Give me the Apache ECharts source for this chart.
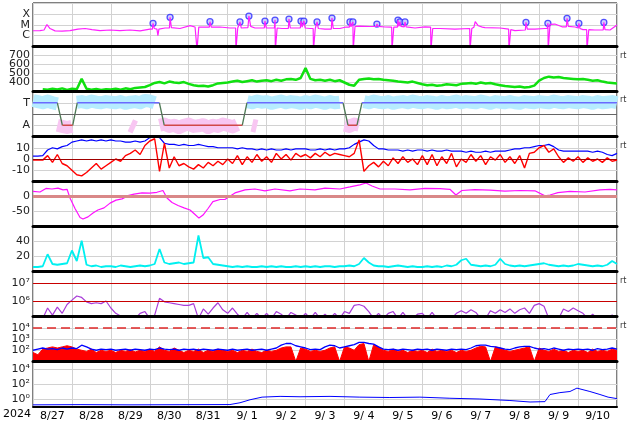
<!DOCTYPE html>
<html><head><meta charset="utf-8">
<script src="https://cdn.jsdelivr.net/npm/echarts@6/dist/echarts.min.js"></script>
<style>html,body{margin:0;padding:0;background:#fff}#c{width:634px;height:424px}</style>
</head><body><div id="c"></div>
<script>
// ---------- DATA ----------
const dayLabels = ['8/27','8/28','8/29','8/30','8/31','9/ 1','9/ 2','9/ 3','9/ 4','9/ 5','9/ 6','9/ 7','9/ 8','9/ 9','9/10'];
const yearLabel = '2024';

// X-ray flux [hour since 8/27 00UT, W/m2]
const xrayPoints = [[0,2.8e-6],[4.3,2.9e-6],[6.8,3.3e-6],[8.6,1.04e-5],[10.5,4.5e-6],[13.6,2.75e-6],[17.9,2.6e-6],[22.8,2.9e-6],[27.7,4.0e-6],[32.1,4.5e-6],[36.4,3.6e-6],[41.3,2.9e-6],[47.5,3.3e-6],[53.6,2.9e-6],[59.8,3.3e-6],[66.0,2.75e-6],[72.1,4.0e-6],
[73.6,4e-6],[74.0,1.35e-5],[74.8,4.5e-6],[76.4,4e-6],[77.0,1.0e-6],[77.6,4e-6],[81.4,5e-6],[84.1,5e-6],[84.5,4.8e-5],[85.3,5.5e-6],[90.6,4.5e-6],[96.8,8.4e-6],[99.9,6.2e-6],
[100.9,6e-6],[101.1,5e-8],[102.0,5e-8],[102.2,6e-6],[106,6.2e-6],[108.7,6e-6],[109.1,1.9e-5],[109.9,6e-6],[115.3,6.2e-6],[121.4,5e-6],
[124.9,5e-6],[125.1,5e-8],[126.0,5e-8],[126.2,5e-6],[127.2,5e-6],[127.6,1.8e-5],[128.4,5e-6],[132.5,5.5e-6],[133.1,6.3e-5],[134.2,7e-6],[136.8,5e-6],
[142.6,5e-6],[143.0,2.2e-5],[143.8,5e-6],[148.8,5e-6],[149.2,2.7e-5],[149.4,5e-8],[150.3,5e-8],[150.5,5e-6],[153.5,4.5e-6],[157.4,4.5e-6],[157.8,3.3e-5],[158.6,5e-6],[161.5,5e-6],
[164.8,5e-6],[165.2,2.2e-5],[165.9,6e-6],[166.6,6e-6],[167.0,2.2e-5],[167.8,5e-6],[170.7,4.5e-6],[172.7,4.5e-6],[172.9,5e-8],[173.8,5e-8],[174.0,4.5e-6],[174.7,4.5e-6],[175.1,1.8e-5],[175.9,4.5e-6],
[180,4e-6],[183.9,4e-6],[184.3,4.1e-5],[185.1,4.5e-6],[189.2,4.5e-6],[192.9,6.2e-6],[195.0,6e-6],[195.4,1.8e-5],[196.0,6.5e-6],[196.8,6.5e-6],[197.2,1.8e-5],[197.4,5e-8],[198.3,5e-8],[198.5,7e-6],
[201.5,7.6e-6],[207.7,6.9e-6],[211.6,7e-6],[212.0,1.15e-5],[212.8,7e-6],[217.0,6.2e-6],[221.1,6e-6],[221.3,5e-8],[222.2,5e-8],[222.4,6e-6],
[224.6,6e-6],[225.0,2.7e-5],[225.5,7e-6],[225.9,7e-6],[226.2,1.8e-5],[226.8,7e-6],[228.9,6.5e-6],[229.3,1.8e-5],[230.0,6.5e-6],[235.5,5e-6],[241.6,6.5e-6],
[245.1,6e-6],[245.3,5e-8],[246.2,5e-8],[246.4,4.5e-6],[250.9,4.5e-6],[260.1,4e-6],[269.2,4.5e-6],[269.4,5e-8],[270.3,5e-8],[270.5,4.5e-6],[271.8,6e-6],[272.6,1.9e-5],[274.5,8e-6],[277,6e-6],
[278.6,5.5e-6],[287.9,5e-6],[293.2,4e-6],[293.4,5e-8],[294.3,5e-8],[294.5,3.5e-6],[297.1,2.9e-6],[303.5,3.3e-6],[303.9,1.65e-5],[304.7,4e-6],[309.4,4e-6],[315.6,4.5e-6],
[317.0,4.5e-6],[317.4,1.35e-5],[317.6,5e-8],[318.5,5e-8],[318.7,1.1e-5],[321.7,1.16e-5],[326.1,6.5e-6],[328.8,6.5e-6],[329.2,3.9e-5],[330.0,7e-6],[334.2,6.2e-6],
[336.1,5e-6],[336.5,1.35e-5],[337.2,4.5e-6],[339.0,3.6e-6],[341.3,3.5e-6],[341.5,5e-8],[342.4,5e-8],[342.6,3.5e-6],[346.4,3.3e-6],[351.5,3.3e-6],[351.9,1.65e-5],[352.6,3.5e-6],[355.7,3.3e-6],[360,9.4e-6]];
const flareHours = [74.0,84.5,109.1,127.6,133.1,143.0,149.2,157.8,165.2,167.0,175.1,184.3,195.4,197.2,212.0,225.0,226.2,229.3,303.9,317.4,329.2,336.5,351.9];
const flareFlux  = [1.35e-5,4.8e-5,1.9e-5,1.8e-5,6.3e-5,2.2e-5,2.7e-5,3.3e-5,2.2e-5,2.2e-5,1.8e-5,4.1e-5,1.8e-5,1.8e-5,1.15e-5,2.7e-5,1.8e-5,1.8e-5,1.65e-5,1.35e-5,3.9e-5,1.35e-5,1.65e-5];

// 3-hourly samples (index i -> hour 3*i)
const windSpeed = [null,null,325,320,330,322,335,318, 330,325,440,330,320,328,318,325, 322,330,320,335,325,340,345,350, 370,395,405,390,410,400,395,405, 385,370,360,365,355,370,390,395, 400,410,420,405,415,425,410,420, 425,415,430,420,435,440,430,450, 560,440,425,430,420,430,415,425, 400,375,365,430,440,445,435,440, 430,425,420,410,405,400,410,395, 380,370,375,365,370,380,375,370, 385,390,395,385,400,390,395,380, 370,360,355,350,355,345,350,365, 420,450,465,455,460,450,445,440, 435,440,430,420,425,410,400,395,390];

const phiToward = [1.2,1.1,1.0,1.15,1.0,0.9,null,null, null,1.05,1.1,1.0,1.15,1.05,1.0,1.1, 1.05,1.0,1.1,0.95,1.05,1.1,1.0,1.2, 1.15,1.0,null,null,null,null,null,null, null,null,null,null,null,null,null,null, null,null,null,null,1.1,1.0,1.15,1.05, 1.1,0.95,1.05,1.15,1.0,1.1,1.05,0.95, 1.1,1.0,1.15,1.05,0.95,1.1,1.0,1.05, null,null,null,null,1.1,1.0,1.15,1.05, 1.0,1.1,0.95,1.05,1.1,1.0,1.15,1.05, 1.0,1.1,1.05,0.95,1.1,1.0,1.05,1.15, 1.0,1.1,1.05,1.0,1.15,1.05,0.95,1.1, 1.05,1.0,1.1,1.0,0.95,1.1,1.05,1.0, 1.1,1.05,1.0,1.15,1.05,1.0,1.1,1.05, 1.0,1.1,1.05,0.95,1.1,1.0,1.05,1.1,1.0];
const phiAway = [null,null,null,null,null,-1.0,-1.1,-1.2, -1.1,null,null,null,null,null,null,null, null,null,null,null,-1.0,-1.2,null,null, null,null,-1.0,-0.9,-1.1,-1.0,-1.2,-1.0, -0.9,-1.1,-1.05,-0.95,-1.2,-1.0,-1.1,-0.9, -1.0,-1.15,-0.95,null,null,-1.0,-1.1,null, null,null,null,null,null,null,null,null, null,null,null,null,null,null,null,null, -1.0,-1.1,-0.9,-1.0,null,null,null,null, null,null,null,null,null,null,null,null, null,null,null,null,null,null,null,null, null,null,null,null,null,null,null,null, null,null,null,null,null,null,null,null, null,null,null,null,null,null,null,null, null,null,null,null,null,null,null,null,null];
const sectorHours = [0,15.0,18.1,24.5,27.3,77.9,80.9,129.0,131.9,191.1,194.2,199.7,202.8,360];
const sectorValues = [1,1,-1,-1,1,1,-1,-1,1,1,-1,-1,1,1];

const imfBt = [2.5,2.5,3,8,10,9,11,12, 15,16,17,16,17,16,17,16, 17,16,16,15,15,16,15,16, 19,20,19,14,13,13,12,13, 12,12,13,12,11,11,10,10, 10,10,9,10,9,9,8,9, 8,9,8,8,9,8,9,9, 9,8,8,9,8,9,8,9, 9,10,13,15,17,16,12,9, 9,8,8,8,7,8,7,8, 8,7,8,7,7,8,7,7, 7,6,7,6,6,7,6,7, 7,7,8,9,9,10,10,11, 12,12,13,11,8,7,7,7, 7,7,7,6,7,6,4,3,5];
const imfBz = [-1,-1,-1,3,-3,4,-4,-6, -10,-14,-15,-12,-8,-4,-9,-6, -3,0,-2,3,5,8,4,12, 16,18,-11,14,-8,2,-6,-4, -7,-9,-5,-8,-3,-6,-2,-5, 0,-4,3,-5,2,-3,4,-2, 2,-3,5,0,4,-1,5,2, 4,1,5,2,6,3,5,4, 3,2,5,17,-11,-6,-3,-7, -2,-6,1,-4,2,-3,0,-5, 3,-5,4,-6,2,-4,5,-7, 0,-3,4,-2,3,-5,2,-1, 4,-3,2,-4,3,-8,5,6, 10,12,6,9,2,-3,1,-2, 2,-3,1,-2,0,-3,1,-2,-1];

const dstPoints = [[0,17],[4.3,15],[8,27],[11.7,25],[15.4,28],[18.5,22],[21,24],[22.8,-5],[25.9,-40],[29,-70],[30.8,-75],[33.9,-68],[37,-55],[40,-45],[43.8,-38],[47.5,-22],[51.2,-12],[54.9,-8],[58.6,3],[62.3,8],[67.2,12],[72,11],[76.4,14],[80.1,20],[82.6,-5],[85.7,-20],[89.4,-30],[93.1,-38],[96.8,-45],[99.9,-60],[102.3,-72],[104.8,-62],[107.9,-40],[110.9,-17],[115.3,-10],[118.3,-10],[124.5,12],[130.7,22],[136.8,25],[143,19],[149.2,25],[158.4,19],[164.6,25],[173.8,22],[180,28],[189.2,25],[195.4,32],[201.5,39],[205.3,45],[209,35],[213.9,25],[223.1,25],[232.4,22],[241.6,27],[250.9,26],[257,24],[260.7,5],[264.4,20],[272.4,23],[281.7,21],[290.9,18],[300.2,20],[309.4,19],[315.6,2],[318.7,5],[323.6,13],[331,17],[340.3,15],[349.5,22],[355.7,24],[360,22]];

const density = [6,6,7,23,10,9,10,11, 28,14,41,9,7,8,6,7, 7,6,8,7,6,7,8,7, 8,10,30,12,10,11,12,10, 11,12,48,18,19,10,9,8, 7,6,7,6,7,6,6,7, 6,7,6,7,6,6,7,6, 7,6,7,6,7,7,6,7, 7,8,7,10,18,12,8,7, 7,6,7,8,7,6,7,6, 6,7,6,7,6,8,7,9, 15,17,9,8,7,8,7,9, 17,10,8,7,8,7,8,9, 10,11,9,8,7,8,7,8, 10,9,8,7,8,7,9,14,10];

// log10 of electron flux
const electronLog = [5.0,5.0,5.0,5.6,5.2,5.65,5.3,5.8, 6.05,6.28,6.2,5.95,5.85,5.9,5.85,6.0, 5.6,5.3,5.15,5.0,5.0,5.0,5.3,5.4, 5.0,5.2,6.15,5.95,5.9,5.85,5.8,5.75, 5.75,5.85,5.0,5.55,5.25,5.6,5.9,5.5, 5.3,5.6,5.25,5.0,5.35,5.0,5.3,5.0, 5.3,5.0,5.4,5.25,5.0,5.35,5.2,5.0, 5.3,5.0,5.35,5.0,5.25,5.0,5.3,5.0, 5.4,5.3,5.75,5.8,5.7,5.4,5.0,5.3, 5.0,5.3,5.4,5.0,5.35,5.0,5.0,5.25, 5.3,5.0,5.35,5.0,5.0,5.0,5.0,5.3, 5.45,5.3,5.5,5.35,5.0,5.0,5.45,5.3, 5.5,5.35,5.55,5.3,5.5,5.6,5.3,5.75, 5.85,5.7,5.0,5.0,5.0,5.55,5.4,5.6, 5.45,5.3,5.0,5.25,5.0,5.0,5.0,5.2,5.0];

// log10 of proton flux (two channels)
const protonRedLog = [1.8,1.6,2.1,2.2,2.3,2.2,2.3,2.4, 2.3,2.1,2.0,1.9,2.1,1.8,2.0,1.9, 2.0,1.8,2.0,1.9,2.05,1.85,2.0,1.9, 2.1,1.9,2.3,2.0,1.9,2.2,2.0,1.8, 2.0,1.9,2.1,1.8,2.0,1.9,2.1,2.0, 1.9,2.0,1.8,2.0,1.9,2.1,1.9,1.8, 2.0,1.9,2.0,2.2,2.3,2.3,1.0,2.2, 2.1,1.9,2.0,1.9,2.0,2.2,2.3,1.0, 2.3,2.2,2.0,2.5,2.6,1.0,2.5,2.3, 2.0,1.9,2.1,1.9,2.0,1.8,2.0,1.9, 2.0,1.8,2.1,1.9,2.0,1.9,2.0,1.8, 2.0,1.9,2.0,2.2,2.35,2.3,1.0,2.3, 2.2,2.0,1.9,2.0,2.1,2.2,2.3,1.0, 2.2,2.0,1.9,2.1,1.9,2.0,1.8,2.0, 1.9,2.0,1.8,2.1,1.9,2.0,1.9,2.1,2.0];
const protonBlueLog = [2.0,2.1,2.2,2.1,2.15,2.05,2.2,2.1, 2.2,2.15,2.45,2.3,2.1,2.0,2.1,2.05, 2.1,2.0,2.05,2.1,2.0,2.1,2.05,2.0, 2.1,2.05,2.2,2.1,2.05,2.1,2.0,2.1, 2.05,2.1,2.0,2.1,2.05,2.0,2.1,2.05, 2.0,2.1,2.0,2.05,2.1,2.0,2.05,2.1, 2.0,2.1,2.2,2.45,2.6,2.6,2.4,2.3, 2.2,2.05,2.1,2.05,2.3,2.45,2.4,2.2, 2.3,2.4,2.5,2.7,2.7,2.6,2.55,2.3, 2.1,2.05,2.1,2.0,2.1,2.05,2.0,2.1, 2.05,2.1,2.0,2.1,2.05,2.0,2.1,2.05, 2.1,2.05,2.2,2.4,2.45,2.45,2.35,2.3, 2.2,2.1,2.05,2.2,2.3,2.35,2.35,2.2, 2.1,2.15,2.05,2.2,2.1,2.0,2.1,2.05, 2.1,2.05,2.1,2.0,2.15,2.05,2.1,2.2,2.1];

// bottom panel, log10 values [hour, log10]
const bottomPoints = [[0,-0.78],[29,-0.75],[59.8,-0.78],[90.6,-0.76],[121.4,-0.74],[127.6,-0.5],[133.8,-0.1],[141.2,0.25],[152.3,0.35],[164.6,0.3],[183.1,0.35],[201.5,0.25],[220,0.2],[238.5,0.25],[257,0.1],[275.5,0.0],[294,-0.2],[306.4,-0.4],[315.6,-0.35],[318.7,0.6],[324.8,0.85],[331,1.0],[335.3,1.45],[343.3,1.0],[349.5,0.6],[354.5,0.25],[360,0.05]];

// ---------- CHART ----------
const FONT = 'DejaVu Sans';
const tops = [3, 46.5, 91.5, 136.5, 181.5, 226.5, 271.5, 316.5, 361.5];
const heights = [43.5, 45, 45, 45, 45, 45, 45, 45, 45];
const SUP = {'-1':'⁻¹','0':'⁰','1':'¹','2':'²','3':'³','4':'⁴','5':'⁵','6':'⁶','7':'⁷'};
const GRID_C = '#d2d2d2';
const h3 = arr => arr.map((v, i) => [i * 3, v]);

const grids = tops.map((t, k) => ({left: 33, right: 17, top: t, height: heights[k], show: true, borderColor: '#000', borderWidth: 1, backgroundColor: '#fff'}));
const xAxes = [];
tops.forEach((t, k) => {
  xAxes.push({gridIndex: k, position: 'bottom', type: 'value', min: 0, max: 360, interval: 24, axisLabel: {show: false}, axisTick: {show: false}, axisLine: {show: false}, splitLine: {show: true, lineStyle: {color: GRID_C, width: 1}}});
});
tops.forEach((t, k) => {
  xAxes.push({gridIndex: k, position: 'bottom', type: 'value', min: 0, max: 360, z: 10, axisLabel: {show: false}, axisTick: {show: false}, splitLine: {show: false}, axisLine: {show: true, lineStyle: {color: '#000', width: k < 8 ? 3 : 2}}});
});
xAxes.push({gridIndex: 8, position: 'bottom', type: 'value', min: 0, max: 360, interval: 12, axisTick: {show: false}, axisLine: {show: false}, splitLine: {show: false},
  axisLabel: {show: true, margin: 4, fontSize: 11, fontFamily: FONT, color: '#000', formatter: v => (v % 24 === 12 ? dayLabels[(v - 12) / 24] : '')}});

function yAxis(k, min, max, interval, fmt, split) {
  const a = {gridIndex: k, position: 'left', type: 'value', min, max, axisLine: {show: false}, axisTick: {show: false},
    axisLabel: {show: true, margin: 3, fontSize: 11, fontFamily: FONT, color: '#222', formatter: fmt, showMinLabel: true, showMaxLabel: true},
    splitLine: split === false ? {show: false} : {show: true, lineStyle: {color: split || GRID_C, width: 1}}};
  if (interval != null) a.interval = interval;
  return a;
}
const pick = map => v => { const r = Math.round(v * 1000) / 1000; return map[r] !== undefined ? map[r] : ''; };
const pow10 = list => v => { const r = Math.round(v); return (Math.abs(v - r) < 1e-6 && list.includes(r)) ? '10' + SUP[r] : ''; };

const yAxes = [
  yAxis(0, -7, -3, 1, pick({'-6': 'C', '-5': 'M', '-4': 'X'})),
  yAxis(1, 300, 800, 100, pick({400: '400', 500: '500', 600: '600', 700: '700'})),
  yAxis(2, -2, 2, 1, pick({1: 'T', '-1': 'A'})),
  yAxis(3, -20, 20, 10, pick({10: '10', 0: '0', '-10': '-10'})),
  yAxis(4, -100, 50, 50, pick({0: '0', '-50': '-50'})),
  yAxis(5, 0, 60, 20, pick({20: '20', 40: '40'})),
  yAxis(6, 5.12, 7.67, null, pow10([6, 7]), false),
  yAxis(7, 1, 5, 1, pow10([2, 3, 4])),
  yAxis(8, -1, 5, 1, pow10([0, 2, 4]), ['rgba(0,0,0,0)', GRID_C])
];

function refLine(k, value, style) {
  return {type: 'line', xAxisIndex: k, yAxisIndex: k, data: [], silent: true,
    markLine: {silent: true, symbol: 'none', animation: false, label: {show: false}, lineStyle: style, data: [{yAxis: value}]}};
}
function line(k, data, color, width, extra) {
  return Object.assign({type: 'line', xAxisIndex: k, yAxisIndex: k, data, symbol: 'none', showSymbol: false, silent: true,
    lineStyle: {color, width}, itemStyle: {color}, connectNulls: false}, extra || {});
}

// sector segments
const secBlue = [], secRed = [], secTrans = [];
for (let i = 0; i < sectorHours.length - 1; i++) {
  const a = [sectorHours[i], sectorValues[i]], b = [sectorHours[i + 1], sectorValues[i + 1]];
  const tgt = a[1] === b[1] ? (a[1] > 0 ? secBlue : secRed) : secTrans;
  tgt.push(a, b, [b[0], null]);
}

const lg = v => v == null ? null : Math.log10(v);
const series = [
  // panel 1 X-ray
  line(0, xrayPoints.map(p => [p[0], lg(p[1])]), '#ff20ff', 1.2),
  {type: 'scatter', xAxisIndex: 0, yAxisIndex: 0, silent: true, symbol: 'circle', symbolSize: 6,
    itemStyle: {color: '#c4c4ff', borderColor: '#2a2aff', borderWidth: 1.3},
    data: flareHours.map((h, i) => [h, lg(flareFlux[i])])},
  // panel 2 wind speed
  line(1, h3(windSpeed), '#10e010', 2.5),
  // panel 3 sector
  refLine(2, 0, {color: '#666', width: 1, type: 'solid'}),
  line(2, h3(phiToward), '#b6ecff', 13, {lineStyle: {color: '#b6ecff', width: 13, cap: 'butt', join: 'round'}}),
  line(2, h3(phiAway), '#f8c6f2', 13, {lineStyle: {color: '#f8c6f2', width: 13, cap: 'butt', join: 'round'}}),
  line(2, secTrans, '#4f7a55', 1.3),
  line(2, secBlue, '#6a6aff', 1.5),
  line(2, secRed, '#d04848', 1.5),
  // panel 4 IMF
  line(3, h3(imfBt), '#0000ff', 1.2),
  line(3, h3(imfBz), '#ff0000', 1.4),
  refLine(3, 0, {color: '#a00000', width: 1, type: 'solid'}),
  // panel 5 Dst
  refLine(4, 0, {color: '#d98888', width: 3, type: 'solid'}),
  line(4, dstPoints, '#ff10ff', 1.2),
  // panel 6 density
  line(5, h3(density), '#00f0f0', 1.8),
  // panel 7 electrons
  refLine(6, 7, {color: '#c80000', width: 1.2, type: 'solid'}),
  refLine(6, 6, {color: '#c80000', width: 1.2, type: 'solid'}),
  line(6, h3(electronLog), '#a83cd8', 1.2),
  // panel 8 protons
  line(7, h3(protonRedLog), '#ff0000', 1, {areaStyle: {color: '#ff0000', opacity: 1, origin: 'start'}}),
  line(7, h3(protonBlueLog), '#0000ff', 1.3),
  refLine(7, 4, {color: '#e02828', width: 1.5, type: [9, 5]}),
  // panel 9
  line(8, bottomPoints, '#0000ff', 1)
];

const rtY = [57, 101, 147, 282, 327];
const graphic = rtY.map(y => ({type: 'text', left: 620, top: y - 5, silent: true, style: {text: 'rt', font: '8px ' + FONT, fill: '#333'}}));
graphic.push({type: 'text', left: 3, top: 409, silent: true, style: {text: yearLabel, font: '11px ' + FONT, fill: '#000'}});

const chart = echarts.init(document.getElementById('c'), null, {renderer: 'canvas'});
chart.setOption({
  animation: false,
  backgroundColor: '#fff',
  textStyle: {fontFamily: FONT},
  grid: grids, xAxis: xAxes, yAxis: yAxes, series, graphic
});
</script></body></html>
